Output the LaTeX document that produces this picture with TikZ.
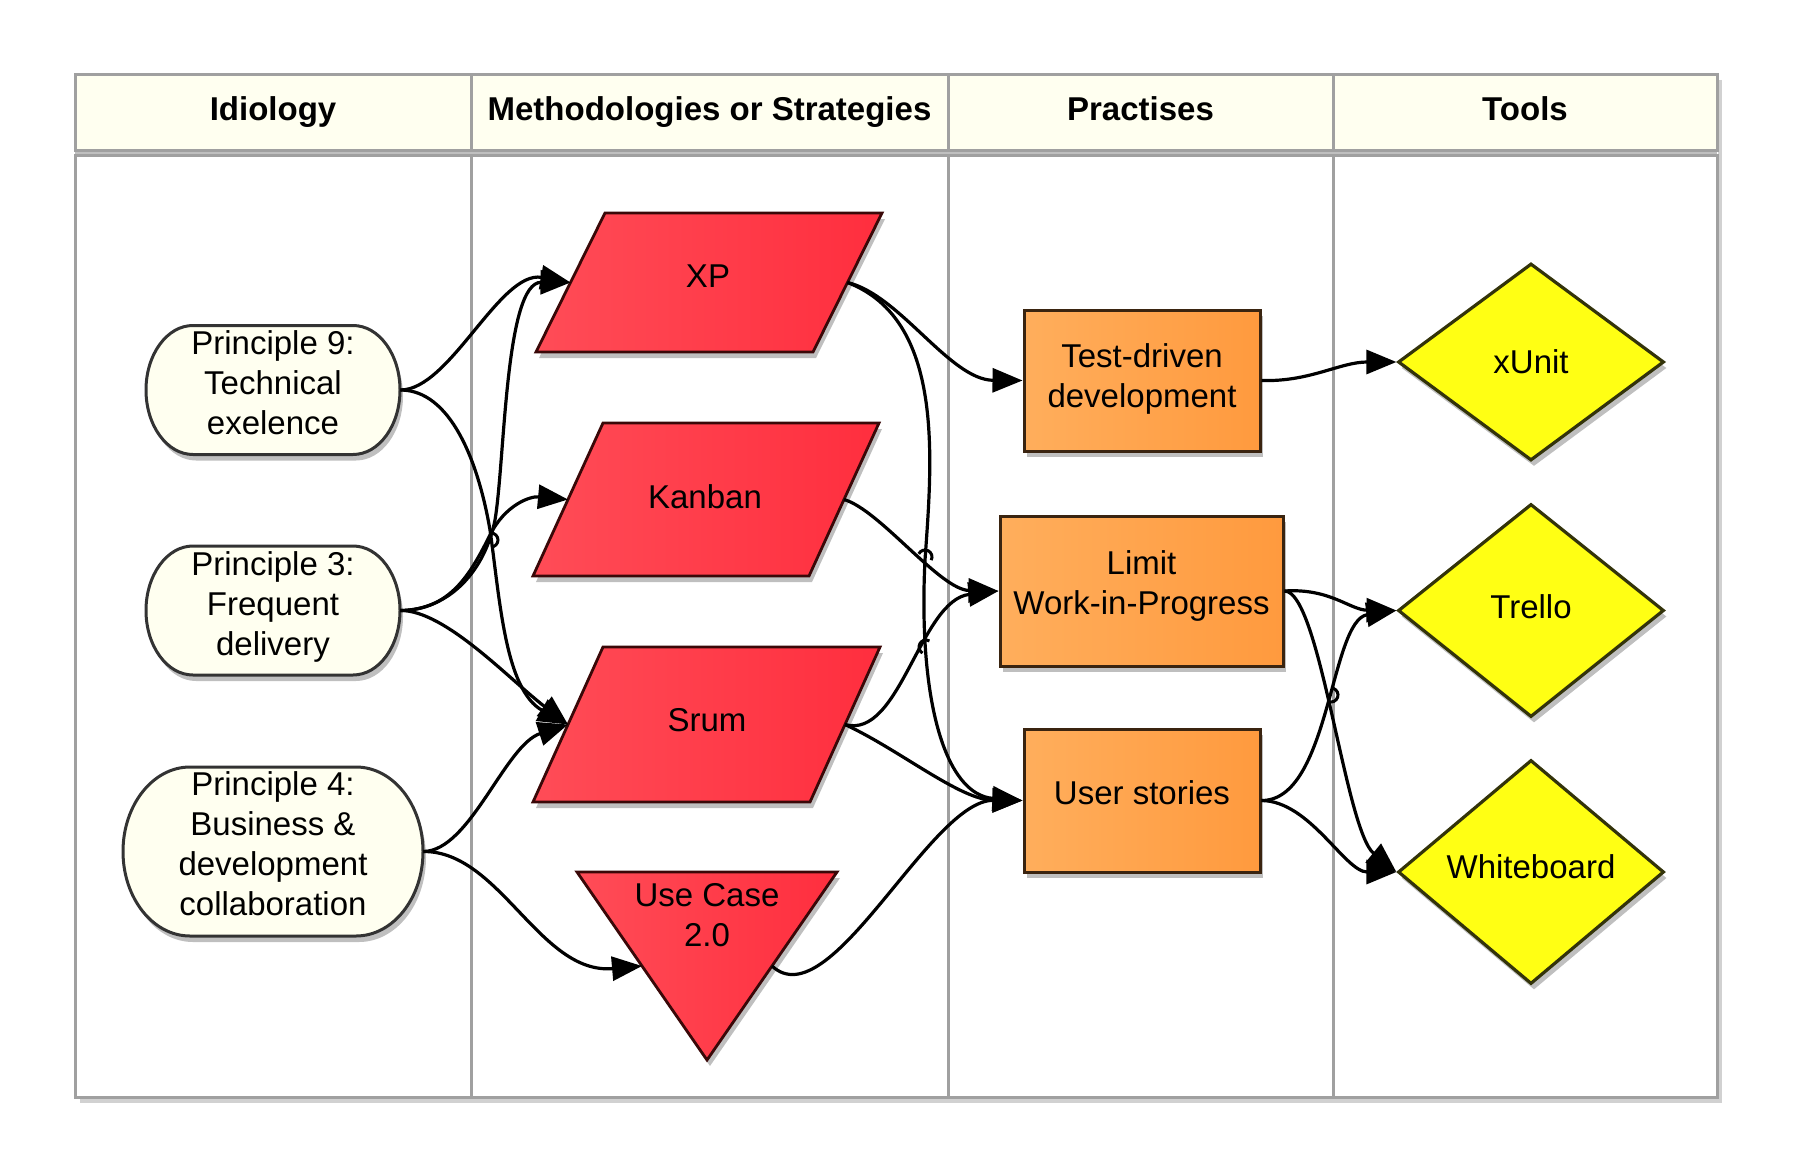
\documentclass[tikz,border=0pt]{standalone}
\usepackage{fontspec}
\setmainfont{Liberation Sans}
\usetikzlibrary{arrows.meta,shapes.geometric,shadows}
\definecolor{ivory}{HTML}{FFFFF0}
\definecolor{framegray}{HTML}{A0A0A0}
\definecolor{redA}{HTML}{FF4C57}
\definecolor{redB}{HTML}{FF2E3E}
\definecolor{redline}{HTML}{3A0808}
\definecolor{orA}{HTML}{FFAE5C}
\definecolor{orB}{HTML}{FF9A3E}
\definecolor{orline}{HTML}{3A2410}
\definecolor{yel}{HTML}{FFFF14}
\definecolor{yelline}{HTML}{33330A}
\definecolor{stadline}{HTML}{333333}
\newcommand{\dpx}[1]{\rule[-#1]{0pt}{#1}}
\begin{document}
\begin{tikzpicture}[x=0.5pt,y=-0.5pt,
  font=\fontsize{16.5}{20}\selectfont,
  shd/.style={drop shadow={shadow xshift=1.5pt, shadow yshift=-3pt, opacity=0.25, fill=black}},
  stadshape/.style={draw=stadline, line width=1.5pt, fill=ivory, shd},
  txt/.style={inner sep=0pt, align=center},
  pbox/.style={rectangle, draw=orline, line width=1.5pt, left color=orA, right color=orB, align=center, inner sep=0pt, shd},
  diam/.style={diamond, draw=yelline, line width=1.6pt, fill=yel, inner sep=0pt, minimum width=133pt, shd},
  redshape/.style={draw=redline, line width=1.4pt, left color=redA, right color=redB, shd},
  hdr/.style={anchor=base, inner sep=0pt, font=\fontsize{16.5}{20}\selectfont\bfseries},
  conn/.style={line width=1.6pt, -{Triangle[length=15pt,width=12pt]}},
  hop/.style={line width=1.5pt},
  frm/.style={draw=framegray, line width=1.5pt},
  frmshadow/.style={draw=black!18, line width=2pt},
]
\useasboundingbox (0,0) rectangle (1793,1172);
% frame shadow
\draw[frmshadow] (1720,80) -- (1720,1101) -- (80,1101);
% header and body
\fill[ivory] (75,75) rectangle (1717,150);
\fill[black!25] (75,150) rectangle (1717,155);
\draw[frm] (75,75) rectangle (1717,150);
\draw[frm] (75,155) rectangle (1717,1097);
\foreach \xx in {471,948,1333}{
  \draw[frm] (\xx,75) -- (\xx,150);
  \draw[frm] (\xx,155) -- (\xx,1097);
}
\node[hdr] (h1) at (273,120) {Idiology};
\node[hdr] (h2) at (709.5,120) {Methodologies or Strategies};
\node[hdr] (h3) at (1140.5,120) {Practises};
\node[hdr] (h4) at (1525,120) {Tools};

% Idiology column: stadium outlines
\path[stadshape] (193,325.5) -- (353,325.5) arc[start angle=90, end angle=-90, x radius=23.5pt, y radius=32.25pt]
   -- (193,454.5) arc[start angle=270, end angle=90, x radius=23.5pt, y radius=32.25pt] -- cycle;
\path[stadshape] (193,546) -- (353,546) arc[start angle=90, end angle=-90, x radius=23.5pt, y radius=32.25pt]
   -- (193,675) arc[start angle=270, end angle=90, x radius=23.5pt, y radius=32.25pt] -- cycle;
\path[stadshape] (190,767) -- (356,767) arc[start angle=90, end angle=-90, x radius=33.5pt, y radius=42.25pt]
   -- (190,936) arc[start angle=270, end angle=90, x radius=33.5pt, y radius=42.25pt] -- cycle;
\node[txt, minimum width=127pt, minimum height=64.5pt] (p9) at (273,390) {Principle 9:\\Technical\\exelence\dpx{7pt}};
\node[txt, minimum width=127pt, minimum height=64.5pt] (p3) at (273,610.5) {Principle 3:\\Frequent\\delivery\dpx{7pt}};
\node[txt, minimum width=150pt, minimum height=84.5pt] (p4) at (273,851.5) {Principle 4:\\Business \&\\development\\collaboration\dpx{8pt}};

% Methodologies column
\path[redshape] (605,213) -- (882,213) -- (813,352) -- (536,352) -- cycle;
\coordinate (xpL) at (570.5,282.5); \coordinate (xpR) at (847.5,282.5);
\node[txt, anchor=base] (xp) at (708,287) {XP};
\path[redshape] (603,423) -- (879,423) -- (809,576) -- (533,576) -- cycle;
\coordinate (kbL) at (568,499.5); \coordinate (kbR) at (844,499.5);
\node[txt, anchor=base] (kb) at (705,508) {Kanban};
\path[redshape] (603,647) -- (880,647) -- (810,802) -- (533,802) -- cycle;
\coordinate (srL) at (568,724.5); \coordinate (srR) at (845,724.5);
\node[txt, anchor=base] (sr) at (707,731) {Srum};
\path[redshape] (577,872) -- (837,872) -- (707,1060) -- cycle;
\coordinate (ucL) at (642,966); \coordinate (ucR) at (772,966);
\node[txt] (uc) at (707,915) {Use Case\\2.0};

% Practises column
\node[pbox, minimum width=118pt, minimum height=70.5pt] (tdd) at (1142,380.5) {Test-driven\\development\dpx{5pt}};
\node[pbox, minimum width=141.5pt, minimum height=75pt] (wip) at (1141.5,591) {Limit\\Work-in-Progress\dpx{8pt}};
\node[pbox, minimum width=118pt, minimum height=71.5pt] (us) at (1142,800.5) {User stories\dpx{7.5pt}};

% Tools column
\node[diam, minimum height=98.5pt] (xu) at (1531,362) {xUnit};
\node[diam, minimum height=106.5pt] (tr) at (1531,610.5) {Trello\dpx{4pt}};
\node[diam, minimum height=112pt] (wb) at (1531,872) {Whiteboard\dpx{5pt}};

% connectors
\draw[conn] (p9.east) .. controls (450,390) and (500,270) .. (xpL);
\draw[conn] (p9.east) .. controls (450,390) and (478,460) .. (490,530) .. controls (500,600) and (505,690) .. (srL);
\draw[conn] (p3.east) .. controls (450,610) and (485,570) .. (495,520) .. controls (505,460) and (505,282) .. (xpL);
\draw[conn] (p3.east) .. controls (450,610) and (470,575) .. (490,535) .. controls (505,505) and (530,496) .. (kbL);
\draw[conn] (p3.east) .. controls (445,610) and (510,680) .. (srL);
\draw[conn] (p4.east) .. controls (470,851) and (505,745) .. (srL);
\draw[conn] (p4.east) .. controls (500,851) and (540,975) .. (ucL);
\draw[conn] (xpR) .. controls (900,295) and (950,380) .. (tdd.west);
\draw[conn] (xpR) .. controls (945,320) and (932,460) .. (925,560) .. controls (918,700) and (945,795) .. (us.west);
\draw[conn] (kbR) .. controls (880,510) and (940,590) .. (wip.west);
\draw[conn] (srR) .. controls (900,740) and (920,600) .. (wip.west);
\draw[conn] (srR) .. controls (900,750) and (960,800) .. (us.west);
\draw[conn] (ucR) .. controls (830,1020) and (930,800) .. (us.west);
\draw[conn] (tdd.east) .. controls (1310,382) and (1340,362) .. (xu.west);
\draw[conn] (wip.east) .. controls (1330,588) and (1350,610) .. (tr.west);
\draw[conn] (wip.east) .. controls (1320,591) and (1345,830) .. (wb.west);
\draw[conn] (us.east) .. controls (1330,801) and (1330,620) .. (tr.west);
\draw[conn] (us.east) .. controls (1310,801) and (1345,872) .. (wb.west);

% line hops
\draw[hop] ([shift={(90:3.5pt)}]491,540) arc[start angle=90, end angle=-90, radius=3.5pt];
\draw[hop] ([shift={(153:3.5pt)}]925,557) arc[start angle=153, end angle=-27, radius=3.5pt];
\draw[hop] ([shift={(240:3.5pt)}]926,647) arc[start angle=240, end angle=60, radius=3.5pt];
\draw[hop] ([shift={(250:3.5pt)}]1331,695) arc[start angle=-110, end angle=70, radius=3.5pt];
\end{tikzpicture}
\end{document}
